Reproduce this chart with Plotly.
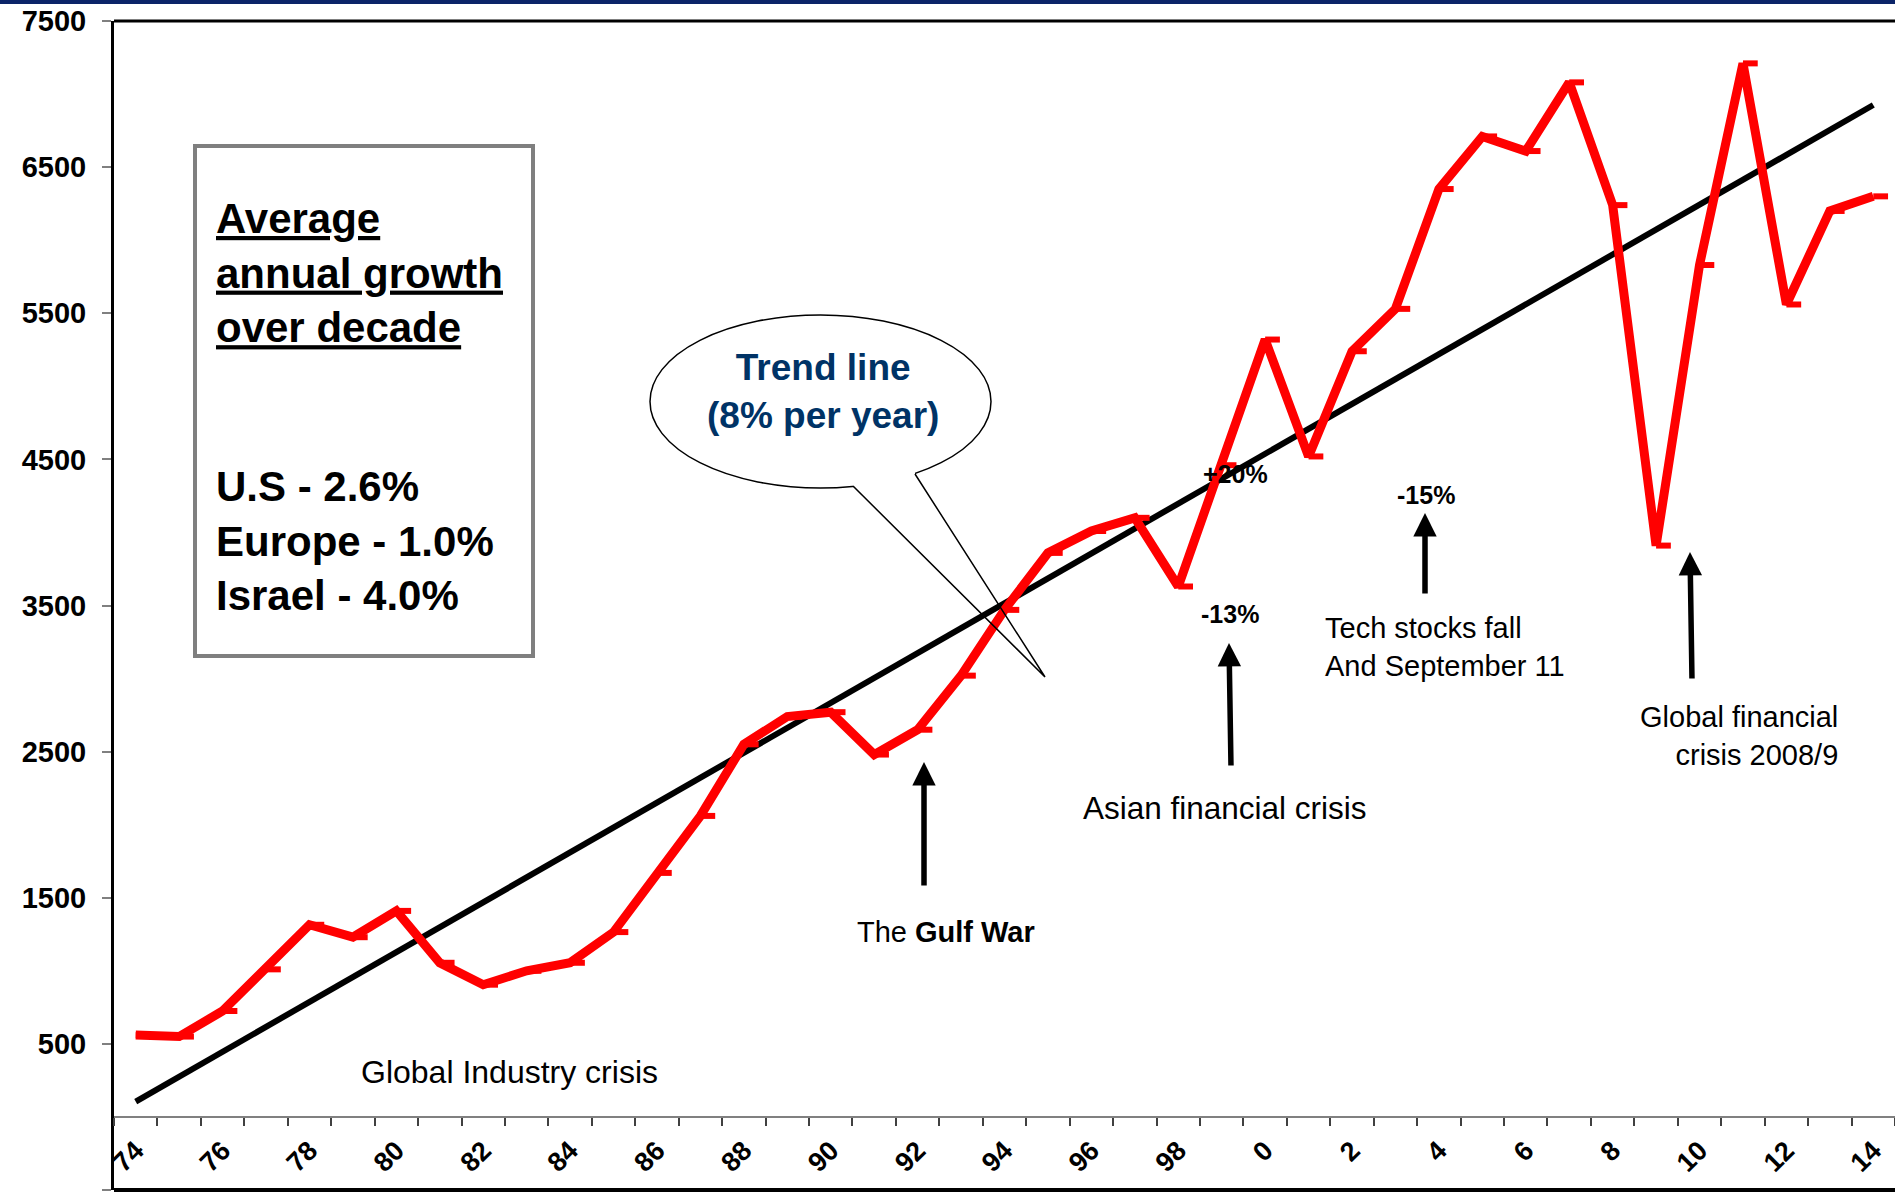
import plotly.graph_objects as go

# ---------------- data ----------------
years = ["74", "75", "76", "77", "78", "79", "80", "81", "82", "83", "84", "85", "86", "87",
         "88", "89", "90", "91", "92", "93", "94", "95", "96", "97", "98", "99",
         "0", "1", "2", "3", "4", "5", "6", "7", "8", "9", "10", "11", "12", "13", "14"]
values = [560, 550, 725, 1010, 1315, 1230, 1410, 1055, 905, 1000, 1055, 1265, 1670, 2060,
          2550, 2740, 2770, 2480, 2650, 3020, 3470, 3860, 4010, 4100, 3630, 4460,
          5320, 4520, 5240, 5530, 6350, 6710, 6610, 7080, 6240, 3910, 5830, 7210, 5560, 6200, 6300]
trend_years = ["74", "14"]
trend_values = [105, 6925]
label_years = ["74", "76", "78", "80", "82", "84", "86", "88", "90", "92", "94", "96", "98",
               "0", "2", "4", "6", "8", "10", "12", "14"]
y_ticks = [-500, 500, 1500, 2500, 3500, 4500, 5500, 6500, 7500]

# ---------------- geometry helpers (pixel -> paper) ----------------
W, H = 1895, 1203
L, R, T, B = 114, 1895, 21, 1190


def px(x):
    return (x - L) / (R - L)


def py(y):
    return (B - y) / (B - T)


FONT = "Liberation Sans"

xi = list(range(len(years)))
trend_x = [years.index(y) for y in trend_years]
label_x = [years.index(y) for y in label_years]

fig = go.Figure()

fig.add_trace(go.Scatter(
    x=trend_x, y=trend_values, mode="lines",
    line=dict(color="black", width=6), showlegend=False, hoverinfo="skip"))

fig.add_trace(go.Scatter(
    x=xi, y=values, mode="lines",
    line=dict(color="#ff0000", width=9),
    error_x=dict(type="constant", value=0.34, valueminus=0, symmetric=False,
                 color="#ff0000", thickness=6, width=0),
    showlegend=False))

shapes = []
# top navy bar
shapes.append(dict(type="rect", xref="paper", yref="paper",
                   x0=px(-5), x1=px(W + 5), y0=py(4), y1=py(-5),
                   fillcolor="#0b2468", line=dict(width=0)))
# top & bottom borders of plot
shapes.append(dict(type="line", xref="paper", yref="paper", x0=0, x1=px(W + 5), y0=1, y1=1,
                   line=dict(color="black", width=3)))
shapes.append(dict(type="line", xref="paper", yref="paper", x0=0, x1=px(W + 5), y0=0, y1=0,
                   line=dict(color="black", width=4)))
# growth box
shapes.append(dict(type="rect", xref="paper", yref="paper",
                   x0=px(195), x1=px(533), y0=py(656), y1=py(146),
                   line=dict(color="#7f7f7f", width=4)))
# callout ellipse
shapes.append(dict(type="circle", xref="paper", yref="paper",
                   x0=px(650), x1=px(991), y0=py(488), y1=py(315),
                   fillcolor="white", line=dict(color="black", width=1.5)))
# tail cover (hides ellipse edge where tail joins)
ax_, ay_ = 853, 486
bx_, by_ = 915, 474
tx_, ty_ = 1045, 677
cover = "M {},{} L {},{} L {},{} L {},{} L {},{} L {},{} Z".format(
    px(ax_), py(ay_ - 8), px(bx_), py(by_ - 8), px(bx_), py(by_),
    px(bx_ + 0.1 * (tx_ - bx_)), py(by_ + 0.1 * (ty_ - by_)),
    px(ax_ + 0.1 * (tx_ - ax_)), py(ay_ + 0.1 * (ty_ - ay_)),
    px(ax_), py(ay_))
shapes.append(dict(type="path", xref="paper", yref="paper", path=cover,
                   fillcolor="white", line=dict(width=0)))
tail = "M {},{} L {},{} L {},{}".format(px(ax_), py(ay_), px(tx_), py(ty_), px(bx_), py(by_))
shapes.append(dict(type="path", xref="paper", yref="paper", path=tail,
                   fillcolor="rgba(0,0,0,0)", line=dict(color="black", width=1.5)))

ann = []


def text(x, y, s, size, xanchor="left", bold=False, color="black", align="left"):
    ann.append(dict(x=px(x), y=py(y), xref="paper", yref="paper", text=s, showarrow=False,
                    xanchor=xanchor, yanchor="middle", align=align,
                    font=dict(family=FONT, size=size, color=color,
                              weight="bold" if bold else "normal")))


def arrow(hx, hy, tx, ty):
    ann.append(dict(x=px(hx), y=py(hy), xref="paper", yref="paper", text="",
                    showarrow=True, ax=tx - hx, ay=ty - hy, axref="pixel", ayref="pixel",
                    arrowhead=2, arrowsize=0.85, arrowwidth=5.5, arrowcolor="black",
                    standoff=0, startstandoff=0))


text(214, 273, "<u>Average</u><br><u>annual growth</u><br><u>over decade</u>", 42, bold=True)
text(214, 541, "U.S - 2.6%<br>Europe - 1.0%<br>Israel - 4.0%", 42, bold=True)
text(823, 392, "Trend line<br>(8% per year)", 37, xanchor="center", bold=True,
     color="#003366", align="center")
text(359, 1072, "Global Industry crisis", 32)
text(855, 932, "The <b>Gulf War</b>", 29)
text(1081, 808, "Asian financial crisis", 31.5)
text(1230, 614, "-13%", 25, xanchor="center", bold=True)
text(1235, 474, "+20%", 25, xanchor="center", bold=True)
text(1426, 495, "-15%", 25, xanchor="center", bold=True)
text(1323, 647, "Tech stocks fall<br>And September 11", 29)
text(1840, 736, "Global financial<br>crisis 2008/9", 29, xanchor="right", align="right")

arrow(924, 762, 924, 887)
arrow(1229, 643, 1231, 767)
arrow(1425, 513, 1425, 595)
arrow(1690, 552, 1692, 680)

fig.update_layout(
    width=W, height=H,
    margin=dict(l=L, r=W - R, t=T, b=H - B, pad=0),
    paper_bgcolor="white", plot_bgcolor="white",
    font=dict(family=FONT, color="black"),
    showlegend=False,
    shapes=shapes,
    annotations=ann,
    xaxis=dict(
        range=[-0.5, 40.5],
        tickmode="array", tickvals=label_x, ticktext=label_years,
        ticks="", showgrid=False, zeroline=False,
        showline=True, linecolor="#808080", linewidth=2,
        anchor="free", position=(0 - (-500)) / (7500 - (-500)),
        tickangle=-45,
        tickfont=dict(family=FONT, size=27, color="black", weight="bold"),
        ticklabelstandoff=6,
        minor=dict(tick0=-0.5, dtick=1, ticks="outside", ticklen=8,
                   tickcolor="#404040", tickwidth=1.5, showgrid=False),
    ),
    yaxis=dict(
        range=[-500, 7500],
        tickmode="array", tickvals=y_ticks,
        ticks="outside", ticklen=9, tickcolor="#808080", tickwidth=1.5,
        showline=True, linecolor="black", linewidth=3,
        showgrid=False, zeroline=False,
        tickfont=dict(family=FONT, size=29, color="black", weight="bold"),
        ticklabelstandoff=10,
    ),
)

fig.write_html("out.html", config={"displayModeBar": False},
               post_script="document.body.style.margin='0';document.body.style.overflow='hidden';")
